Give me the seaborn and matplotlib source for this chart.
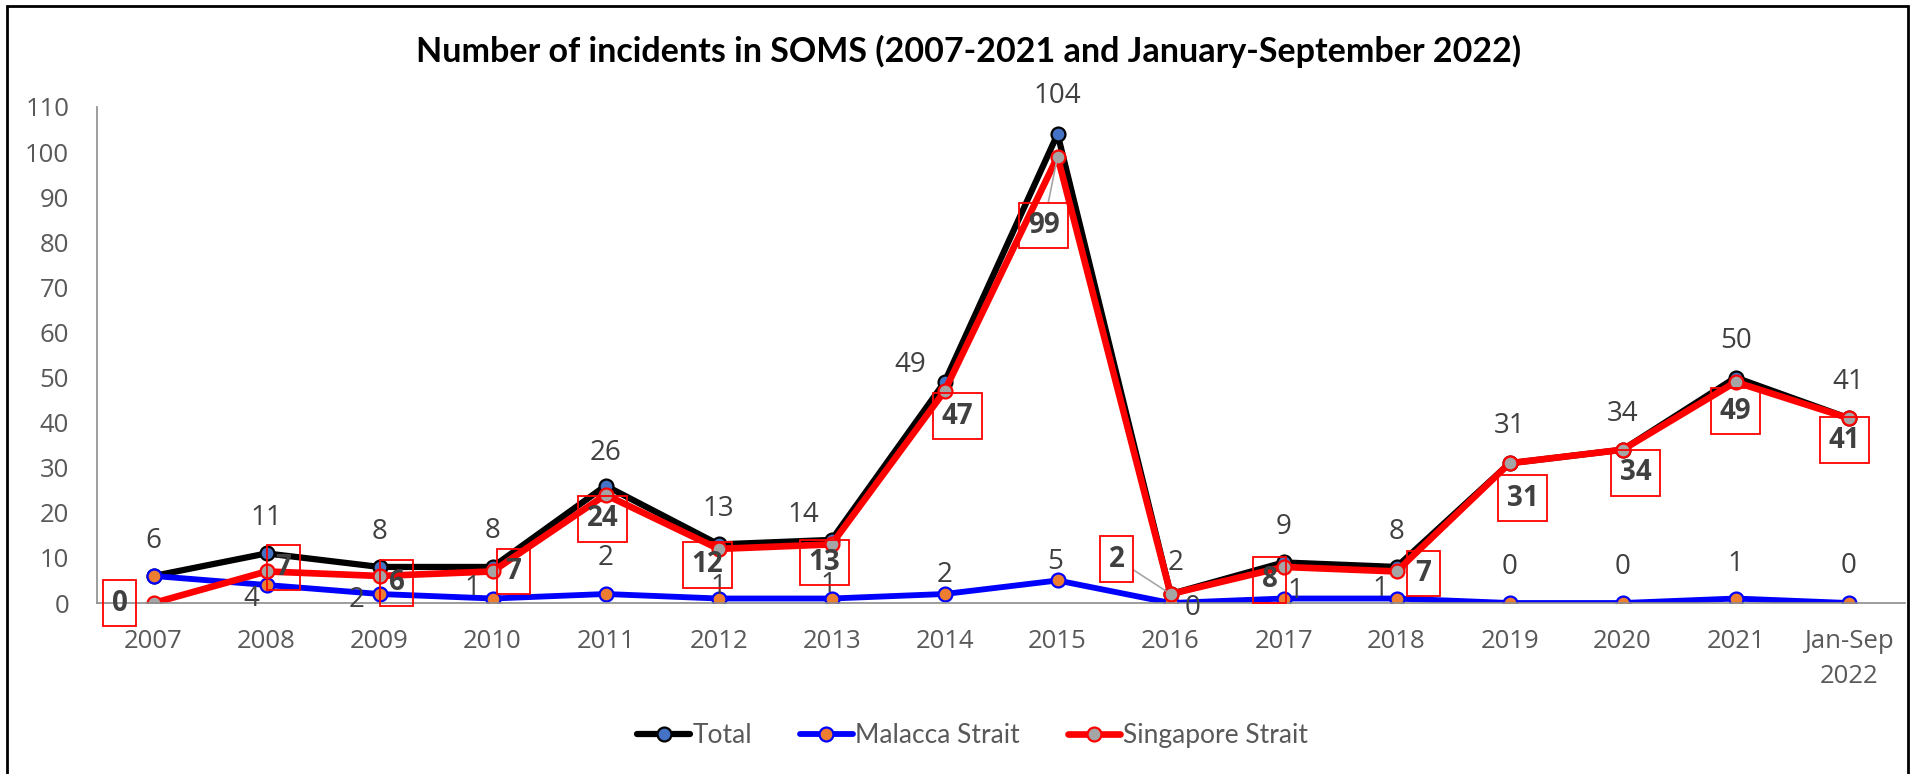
import numpy as np
import pandas as pd
import matplotlib
matplotlib.use('Agg')
import matplotlib.pyplot as plt
from matplotlib.patches import Rectangle
import seaborn as sns

# data
years = ['2007', '2008', '2009', '2010', '2011', '2012', '2013', '2014',
         '2015', '2016', '2017', '2018', '2019', '2020', '2021', 'Jan-Sep\n2022']
total = [6, 11, 8, 8, 26, 13, 14, 49, 104, 2, 9, 8, 31, 34, 50, 41]
malacca = [6, 4, 2, 1, 2, 1, 1, 2, 5, 0, 1, 1, 0, 0, 1, 0]
singapore = [0, 7, 6, 7, 24, 12, 13, 47, 99, 2, 8, 7, 31, 34, 49, 41]

# label offsets (pixels, dx / dy up)
total_off = [(0, 35), (0, 35), (0, 35), (0, 36), (0, 33), (0, 35), (-28, 25), (-34, 17),
             (0, 38), (5, 31), (0, 35), (0, 35), (0, 37), (0, 36), (0, 37), (0, 36)]
malacca_off = [(0, 35), (-15, -14), (-23, -6), (-20, 11), (0, 36), (0, 12), (-3, 14), (0, 19),
               (-2, 18), (22, -5), (12, 8), (-16, 10), (0, 36), (0, 36), (0, 35), (0, 37)]
sing_off = [(-34, 0), (17, 4), (17, -7), (21, 0), (-3, -24), (-11, -16), (-7, -18), (13, -25),
            (-14, -69), (-54, 35), (-14, -13), (27, -2), (13, -35), (13, -23), (0, -29), (-4, -22)]

df = pd.DataFrame({'year': years, 'Total': total, 'Malacca Strait': malacca,
                   'Singapore Strait': singapore})

sns.set_style('white')
plt.rcParams['font.family'] = ['Open Sans', 'DejaVu Sans']

fig = plt.figure(figsize=(19.11, 7.74), dpi=100)
ax = fig.add_axes([0.0508, 0.2209, 0.9461, 0.6409])

styles = {
    'Total': dict(color='black', mfc='#4472C4', mec='black', lw=4.5),
    'Malacca Strait': dict(color='#0000FF', mfc='#ED7D31', mec='#0000FF', lw=4.2),
    'Singapore Strait': dict(color='#FF0000', mfc='#A5A5A5', mec='#FF0000', lw=4.8),
}
for name, st in styles.items():
    sns.lineplot(data=df, x='year', y=name, ax=ax, color=st['color'], lw=st['lw'],
                 marker='o', markersize=10, markerfacecolor=st['mfc'],
                 markeredgecolor=st['mec'], markeredgewidth=1.6, label=name,
                 sort=False)

x = np.arange(len(years))
for i in range(len(years)):
    ax.annotate(str(total[i]), (x[i], total[i]), xytext=total_off[i],
                textcoords='offset pixels', ha='center', va='center',
                fontsize=20, color='#404040', zorder=6)
    if i != 0:
        ax.annotate(str(malacca[i]), (x[i], malacca[i]), xytext=malacca_off[i],
                    textcoords='offset pixels', ha='center', va='center',
                    fontsize=20, color='#404040', zorder=6)
    ap = None
    if years[i] in ('2015', '2016'):
        ap = dict(arrowstyle='-', color='#A6A6A6', lw=1.2, shrinkA=0, shrinkB=4)
    ax.annotate(str(singapore[i]), (x[i], singapore[i]), xytext=sing_off[i],
                textcoords='offset pixels', ha='center', va='center',
                fontsize=20, fontweight='bold', color='#404040', zorder=7,
                bbox=dict(boxstyle='square,pad=0.3', fc='none', ec='#FF0000', lw=1.3),
                arrowprops=ap)

ax.set_xlim(-0.5, 15.5)
ax.set_ylim(0, 110)
ax.set_yticks(np.arange(0, 111, 10))
ax.set_xlabel('')
ax.set_ylabel('')
ax.tick_params(axis='both', length=0, labelsize=18.5, labelcolor='#595959')
ax.tick_params(axis='y', pad=20)
ax.tick_params(axis='x', pad=19)
for lbl in ax.get_xticklabels():
    lbl.set_linespacing(1.5)
for s in ['top', 'right']:
    ax.spines[s].set_visible(False)
for s in ['left', 'bottom']:
    ax.spines[s].set_color('#8C8C8C')
    ax.spines[s].set_linewidth(1.2)

ax.get_legend().remove()
h, l = ax.get_legend_handles_labels()
fig.legend(h, l, loc='center', bbox_to_anchor=(0.509, 0.05), ncol=3, frameon=False,
           prop={'family': 'Lato', 'size': 19}, labelcolor='#595959',
           handlelength=2.0, handletextpad=0.1, columnspacing=1.8)

fig.text(0.507, 0.934, 'Number of incidents in SOMS (2007-2021 and January-September 2022)',
         ha='center', va='center', fontsize=24.5, fontweight='bold', family='Lato', color='black')

fig.patches.append(Rectangle((0.0037, -0.01), 0.9945, 1 - 0.0078 + 0.01, transform=fig.transFigure,
                             fill=False, ec='black', lw=2))

fig.savefig('out.png', dpi=100)
